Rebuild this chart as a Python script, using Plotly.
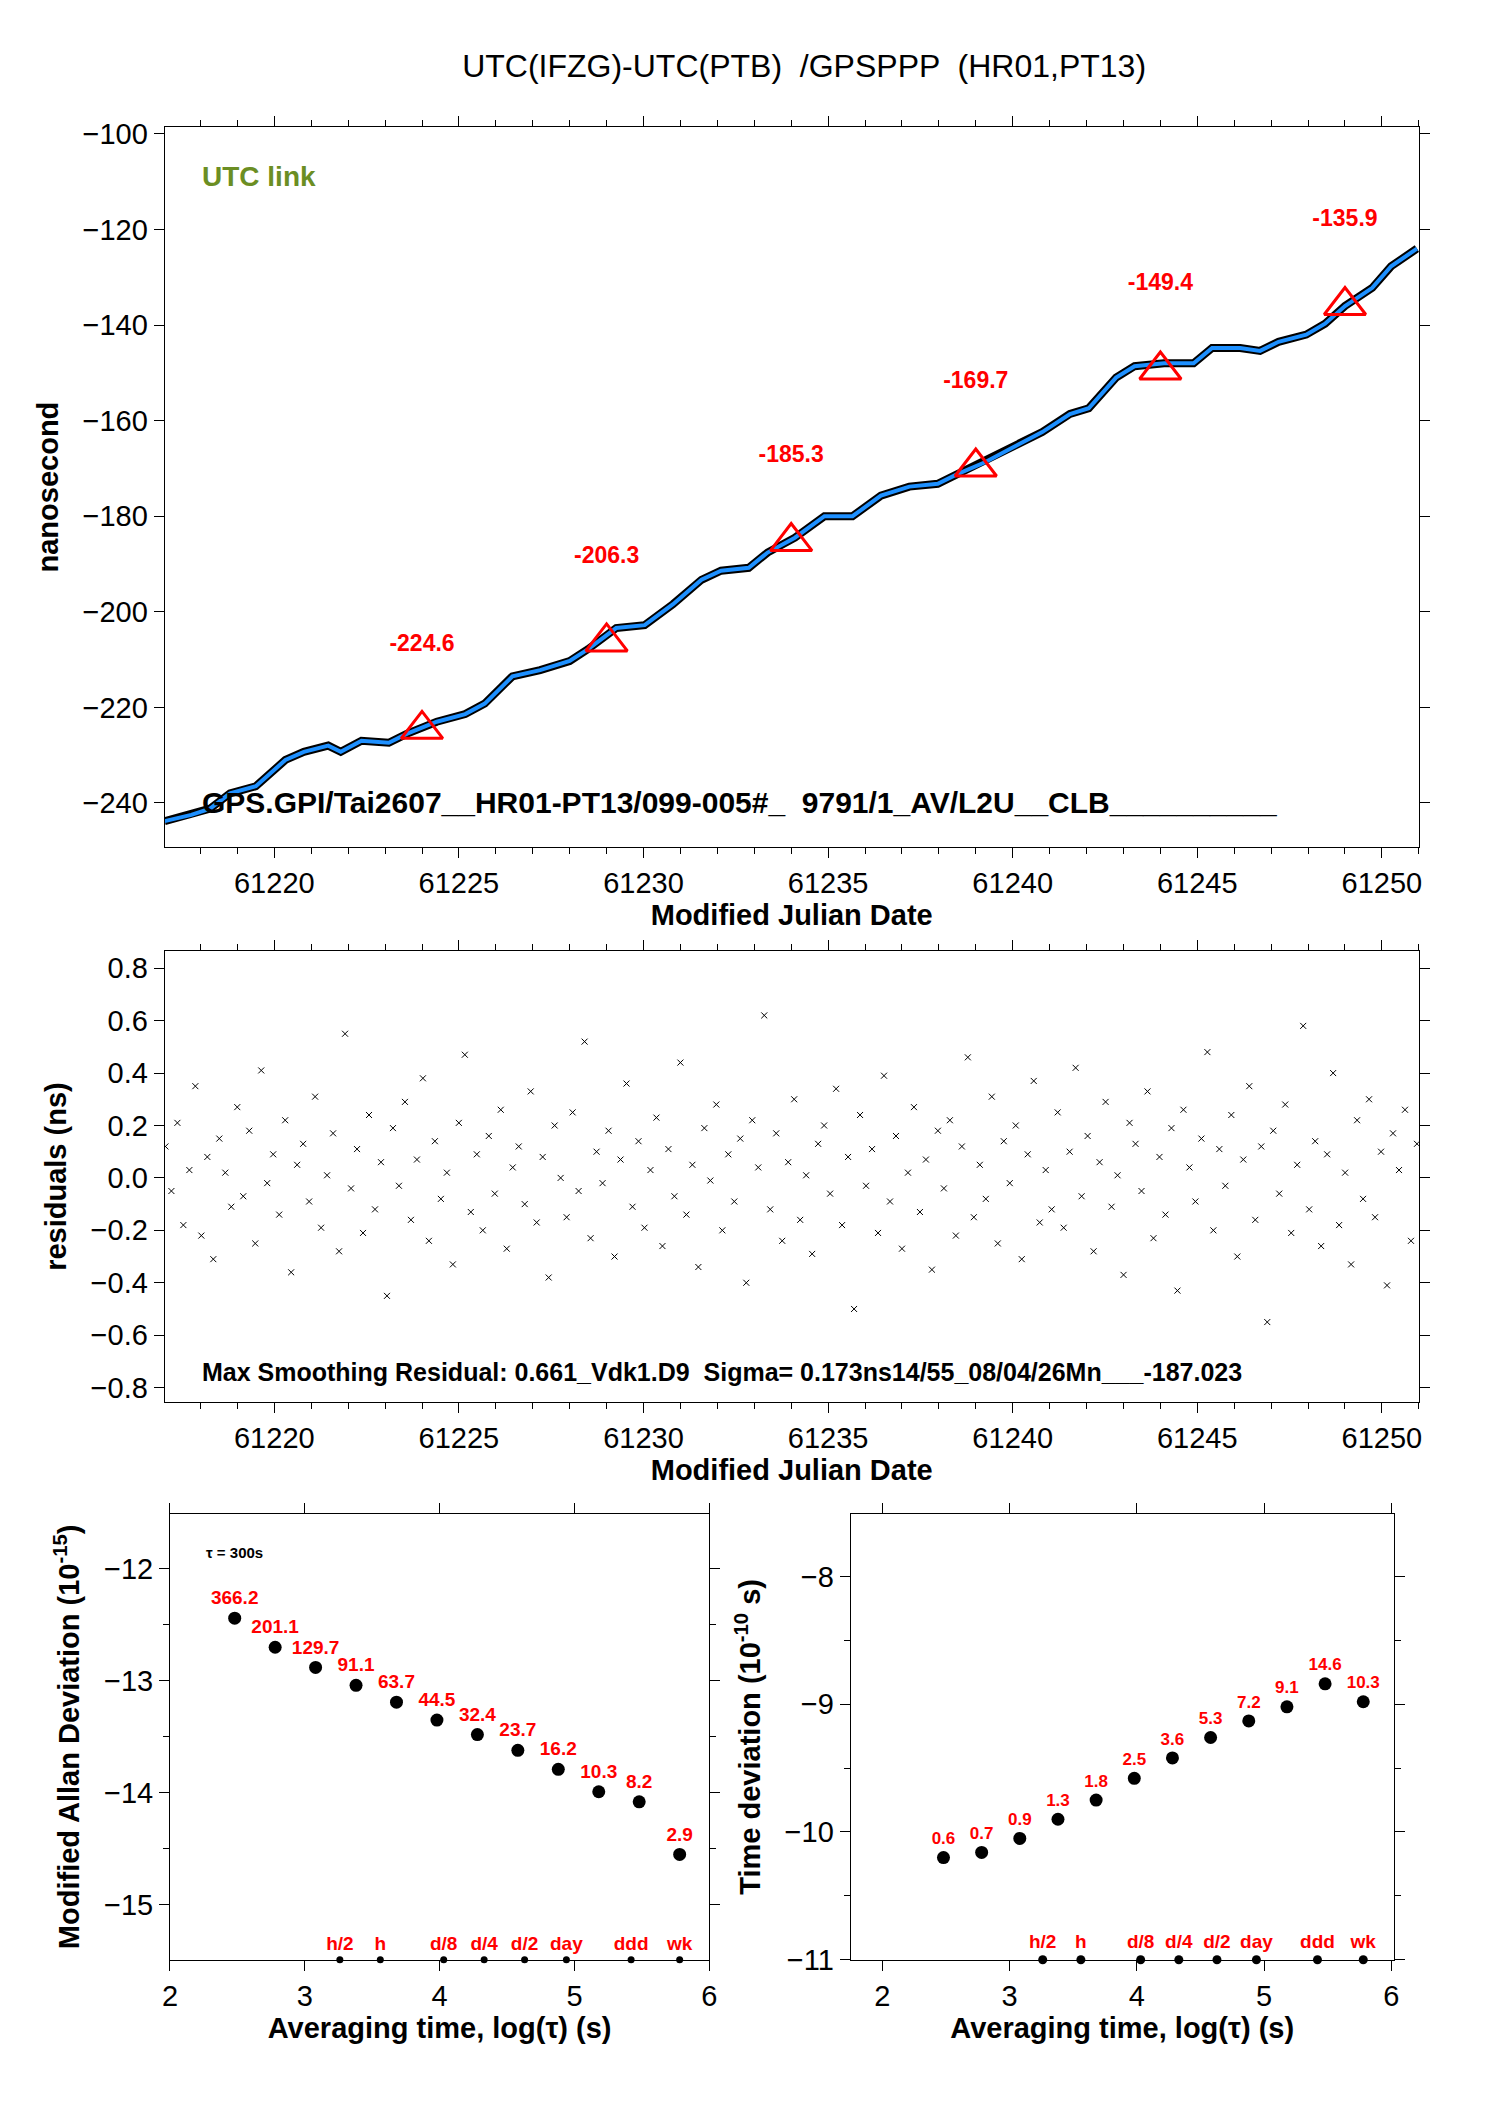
import plotly.graph_objects as go
import numpy as np

# phase curve
mjd = [61217.03, 61217.75, 61218.26, 61218.8, 61219.5, 61220.3, 61220.8, 61221.46, 61221.8, 61222.36,
       61223.1, 61223.6, 61224.4, 61225.17, 61225.7, 61226.45, 61227.2, 61228.0, 61228.5, 61229.26,
       61230.03, 61230.8, 61231.57, 61232.1, 61232.85, 61233.36, 61234.1, 61234.9, 61235.66, 61236.43,
       61237.2, 61237.97, 61238.5, 61239.25, 61240.0, 61240.8, 61241.55, 61242.06, 61242.8, 61243.3,
       61244.1, 61244.9, 61245.4, 61246.16, 61246.7, 61247.2, 61247.95, 61248.46, 61249.0, 61249.74,
       61250.25, 61250.95]
phase = [-243.8, -242.5, -241.2, -238.0, -236.5, -231.0, -229.3, -228.0, -229.3, -227.0,
         -227.4, -225.5, -223.0, -221.4, -219.2, -213.5, -212.2, -210.3, -207.8, -203.4,
         -202.8, -198.4, -193.3, -191.4, -190.8, -187.6, -184.5, -180.0, -180.0, -175.7,
         -173.8, -173.2, -171.2, -168.7, -165.6, -162.4, -158.6, -157.4, -151.0, -148.6,
         -148.0, -148.0, -144.8, -144.8, -145.4, -143.5, -142.0, -139.7, -136.0, -132.2,
         -127.7, -124.0]
tri_mjd = [61224, 61229, 61234, 61239, 61244, 61249]
tri_val = [-224.6, -206.3, -185.3, -169.7, -149.4, -135.9]
tri_lbl_y = [-207.0, -188.5, -167.5, -152.0, -131.5, -118.0]

# residuals (ns), sampled values
resid = [0.12, -0.05, 0.21, -0.18, 0.03, 0.35, -0.22, 0.08, -0.31, 0.15, 0.02, -0.11, 0.27, -0.07, 0.18,
         -0.25, 0.41, -0.02, 0.09, -0.14, 0.22, -0.36, 0.05, 0.13, -0.09, 0.31, -0.19, 0.01, 0.17, -0.28,
         0.55, -0.04, 0.11, -0.21, 0.24, -0.12, 0.06, -0.45, 0.19, -0.03, 0.29, -0.16, 0.07, 0.38, -0.24,
         0.14, -0.08, 0.02, -0.33, 0.21, 0.47, -0.13, 0.09, -0.2, 0.16, -0.06, 0.26, -0.27, 0.04, 0.12,
         -0.1, 0.33, -0.17, 0.08, -0.38, 0.2, 0.0, -0.15, 0.25, -0.05, 0.52, -0.23, 0.1, -0.02, 0.18,
         -0.3, 0.07, 0.36, -0.11, 0.14, -0.19, 0.03, 0.23, -0.26, 0.11, -0.07, 0.44, -0.14, 0.05, -0.34,
         0.19, -0.01, 0.28, -0.2, 0.09, -0.09, 0.15, -0.4, 0.22, 0.04, 0.62, -0.12, 0.17, -0.24, 0.06,
         0.3, -0.16, 0.01, -0.29, 0.13, 0.2, -0.06, 0.34, -0.18, 0.08, -0.5, 0.24, -0.03, 0.11, -0.21,
         0.39, -0.09, 0.16, -0.27, 0.02, 0.27, -0.13, 0.07, -0.35, 0.18, -0.04, 0.22, -0.22, 0.12, 0.46,
         -0.15, 0.05, -0.08, 0.31, -0.25, 0.14, -0.02, 0.2, -0.31, 0.09, 0.37, -0.17, 0.03, -0.12, 0.25,
         -0.19, 0.1, 0.42, -0.07, 0.16, -0.28, 0.06, 0.29, -0.11, 0.01, -0.37, 0.21, 0.13, -0.05, 0.33,
         -0.23, 0.08, -0.14, 0.19, -0.43, 0.26, 0.04, -0.09, 0.15, 0.48, -0.2, 0.11, -0.03, 0.24, -0.3,
         0.07, 0.35, -0.16, 0.12, -0.55, 0.18, -0.06, 0.28, -0.21, 0.05, 0.58, -0.12, 0.14, -0.26, 0.09,
         0.4, -0.18, 0.02, -0.33, 0.22, -0.08, 0.3, -0.15, 0.1, -0.41, 0.17, 0.03, 0.26, -0.24, 0.13]
res_mjd = np.linspace(61217.05, 61250.95, len(resid))

# stability estimates
log_tau = [2.48, 2.78, 3.08, 3.38, 3.68, 3.98, 4.28, 4.58, 4.88, 5.18, 5.48, 5.78]
mdev = [-12.44, -12.7, -12.88, -13.04, -13.19, -13.35, -13.48, -13.62, -13.79, -13.99, -14.08, -14.55]
mdev_lbl = ['366.2', '201.1', '129.7', '91.1', '63.7', '44.5', '32.4', '23.7', '16.2', '10.3', '8.2', '2.9']
tdev = [-10.2, -10.16, -10.05, -9.9, -9.75, -9.58, -9.42, -9.26, -9.13, -9.02, -8.84, -8.98]
tdev_lbl = ['0.6', '0.7', '0.9', '1.3', '1.8', '2.5', '3.6', '5.3', '7.2', '9.1', '14.6', '10.3']
mark_x = [3.26, 3.56, 4.03, 4.33, 4.63, 4.94, 5.42, 5.78]
mark_lbl = ['h/2', 'h', 'd/8', 'd/4', 'd/2', 'day', 'ddd', 'wk']

FONT = "Liberation Sans"
RED = "#ff0000"

fig = go.Figure()
fig.add_trace(go.Scatter(x=mjd, y=phase, mode='lines', line=dict(color='black', width=8),
                         xaxis='x', yaxis='y'))
fig.add_trace(go.Scatter(x=mjd, y=phase, mode='lines', line=dict(color='#1e90ff', width=4),
                         xaxis='x', yaxis='y'))
fig.add_trace(go.Scatter(x=tri_mjd, y=tri_val, mode='markers',
                         marker=dict(symbol='triangle-up-open', size=36, color=RED, line=dict(width=3)),
                         xaxis='x', yaxis='y'))
fig.add_trace(go.Scatter(x=tri_mjd, y=tri_lbl_y, mode='text', text=[str(v) for v in tri_val],
                         textfont=dict(color=RED, size=23, family=FONT, weight='bold'),
                         xaxis='x', yaxis='y'))
fig.add_trace(go.Scatter(x=res_mjd, y=resid, mode='markers',
                         marker=dict(symbol='x-thin', size=6, color='black', line=dict(width=1, color='black')),
                         xaxis='x2', yaxis='y2'))
fig.add_trace(go.Scatter(x=log_tau, y=mdev, mode='markers+text', marker=dict(color='black', size=13),
                         text=mdev_lbl, textposition='top center',
                         textfont=dict(color=RED, size=19, family=FONT, weight='bold'),
                         xaxis='x3', yaxis='y3'))
fig.add_trace(go.Scatter(x=mark_x, y=[-15.49] * len(mark_x), mode='markers+text',
                         marker=dict(color='black', size=7), text=mark_lbl, textposition='top center',
                         textfont=dict(color=RED, size=19, family=FONT, weight='bold'),
                         cliponaxis=False, xaxis='x3', yaxis='y3'))
fig.add_trace(go.Scatter(x=log_tau, y=tdev, mode='markers+text', marker=dict(color='black', size=13),
                         text=tdev_lbl, textposition='top center',
                         textfont=dict(color=RED, size=17, family=FONT, weight='bold'),
                         xaxis='x4', yaxis='y4'))
fig.add_trace(go.Scatter(x=mark_x, y=[-11.0] * len(mark_x), mode='markers+text',
                         marker=dict(color='black', size=9), text=mark_lbl, textposition='top center',
                         textfont=dict(color=RED, size=19, family=FONT, weight='bold'),
                         cliponaxis=False, xaxis='x4', yaxis='y4'))

ax = dict(showline=True, linecolor='black', linewidth=1, mirror='allticks', ticks='outside',
          ticklen=10, tickcolor='black', showgrid=False, zeroline=False,
          tickfont=dict(size=29, family=FONT, color='black'))
tfont = dict(size=29, family=FONT, color='black', weight='bold')
fig.update_layout(
    width=1488, height=2105, margin=dict(l=0, r=0, t=0, b=0),
    paper_bgcolor='white', plot_bgcolor='white', showlegend=False,
    font=dict(family=FONT, color='black'),
    title=dict(text="UTC(IFZG)-UTC(PTB)  /GPSPPP  (HR01,PT13)", x=0.535, y=0.978, xanchor='center',
               font=dict(size=32, family=FONT)),
    xaxis=dict(ax, domain=[0.101, 0.953], range=[61217.03, 61251.0], anchor='y', dtick=5, tickformat='d',
               minor=dict(dtick=1, ticks='outside', ticklen=6, tickcolor='black'),
               title=dict(text="Modified Julian Date", font=tfont, standoff=2)),
    yaxis=dict(ax, domain=[0.601, 0.947], range=[-249.2, -98.6], anchor='x', dtick=20,
               title=dict(text="nanosecond", font=tfont)),
    xaxis2=dict(ax, domain=[0.101, 0.953], range=[61217.03, 61251.0], anchor='y2', dtick=5, tickformat='d',
                minor=dict(dtick=1, ticks='outside', ticklen=6, tickcolor='black'),
                title=dict(text="Modified Julian Date", font=tfont, standoff=2)),
    yaxis2=dict(ax, domain=[0.334, 0.551], range=[-0.856, 0.866], anchor='x2', dtick=0.2,
                tickformat='.1f', title=dict(text="residuals (ns)", font=tfont)),
    xaxis3=dict(ax, domain=[0.1046, 0.471], range=[2, 6], anchor='y3', dtick=1,
                title=dict(text="Averaging time, log(τ) (s)", font=tfont, standoff=2)),
    yaxis3=dict(ax, domain=[0.066, 0.2803], range=[-15.49, -11.51], anchor='x3', dtick=1,
                minor=dict(dtick=0.5, ticks='outside', ticklen=6, tickcolor='black'),
                title=dict(text="Modified Allan Deviation (10<sup>-15</sup>)", font=tfont)),
    xaxis4=dict(ax, domain=[0.567, 0.936], range=[1.75, 6.02], anchor='y4', dtick=1,
                title=dict(text="Averaging time, log(τ) (s)", font=tfont, standoff=2)),
    yaxis4=dict(ax, domain=[0.066, 0.2803], range=[-11.0, -7.51], anchor='x4', dtick=1,
                minor=dict(dtick=0.5, ticks='outside', ticklen=6, tickcolor='black'),
                title=dict(text="Time deviation (10<sup>-10</sup> s)", font=tfont)),
)
fig.add_annotation(x=61218, y=-109, xref='x', yref='y', text="UTC link", showarrow=False, xanchor='left',
                   font=dict(size=28, color='#6b8e23', family=FONT, weight='bold'))
fig.add_annotation(x=61218, y=-240, xref='x', yref='y', showarrow=False, xanchor='left',
                   text="GPS.GPI/Tai2607__HR01-PT13/099-005#_  9791/1_AV/L2U__CLB__________",
                   font=dict(size=30, family=FONT, weight='bold'))
fig.add_annotation(x=61218, y=-0.74, xref='x2', yref='y2', showarrow=False, xanchor='left',
                   text="Max Smoothing Residual: 0.661_Vdk1.D9  Sigma= 0.173ns14/55_08/04/26Mn___-187.023",
                   font=dict(size=25, family=FONT, weight='bold'))
fig.add_annotation(x=2.25, y=-11.85, xref='x3', yref='y3', showarrow=False, xanchor='left',
                   text="τ = 300s", font=dict(size=15, family=FONT, weight='bold'))

fig.write_html("out.html")
